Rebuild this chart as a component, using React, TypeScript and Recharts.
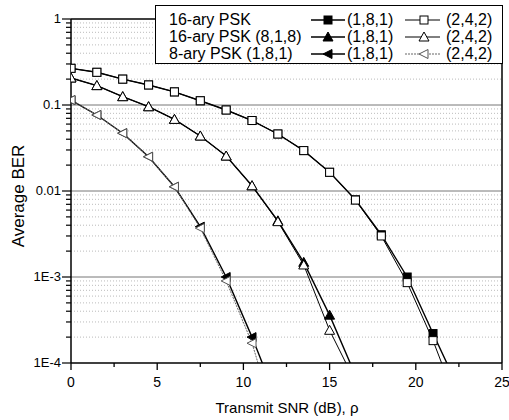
import { LineChart, Line, XAxis, YAxis, ReferenceLine, Legend, Label } from "recharts";

const SNR = [0, 1.5, 3, 4.5, 6, 7.5, 9, 10.5, 12, 13.5, 15, 16.5, 18, 19.5, 21, 22.5];

// 16-ary PSK
const PSK16_181 = [0.267, 0.24, 0.2, 0.171, 0.142, 0.112, 0.0875, 0.066, 0.046, 0.0295, 0.0165, 0.0079, 0.0031, 1.0e-3, 2.2e-4, 5e-5];
const PSK16_242 = [0.267, 0.24, 0.2, 0.171, 0.142, 0.112, 0.0875, 0.066, 0.046, 0.0295, 0.0165, 0.00785, 0.003, 8.6e-4, 1.82e-4, 3e-5];
// 16-ary PSK (8,1,8)
const PSK16R_181 = [0.206, 0.168, 0.125, 0.0955, 0.068, 0.0436, 0.0255, 0.0115, 0.0045, 1.48e-3, 3.6e-4, 7.2e-5];
const PSK16R_242 = [0.206, 0.168, 0.125, 0.0955, 0.068, 0.0436, 0.0255, 0.0115, 0.0044, 1.38e-3, 2.4e-4, 6e-5];
// 8-ary PSK (1,8,1)
const PSK8_181 = [0.114, 0.0765, 0.047, 0.025, 0.0112, 0.00385, 1.0e-3, 2.0e-4, 3.5e-5];
const PSK8_242 = [0.114, 0.0765, 0.047, 0.025, 0.0112, 0.0037, 9.0e-4, 1.7e-4, 1.7e-5];

const X_TICKS = [0, 2.5, 5, 7.5, 10, 12.5, 15, 17.5, 20, 22.5, 25];
const Y_MAJOR = [1e-4, 1e-3, 0.01, 0.1, 1];
const Y_LABELS = ["1E-4", "1E-3", "0.01", "0.1", "1"];
const Y_MINOR = [2, 3, 4, 5, 6, 7, 8, 9];

const LEGEND_NAMES = ["16-ary PSK", "16-ary PSK (8,1,8)", "8-ary PSK (1,8,1)"];
const LEGEND_CODES = ["(1,8,1)", "(2,4,2)"];

const data = SNR.map((snr, i) => ({
  snr,
  a1: PSK16_181[i],
  a2: PSK16_242[i],
  b1: PSK16R_181[i],
  b2: PSK16R_242[i],
  c1: PSK8_181[i],
  c2: PSK8_242[i],
}));

const minorTicks: number[] = [];
Y_MAJOR.slice(0, 4).forEach(d => Y_MINOR.forEach(m => minorTicks.push(+(d * m).toPrecision(3))));
const yTicks = [...Y_MAJOR, ...minorTicks].sort((a, b) => a - b);

const majorIndex = (v: number) => Y_MAJOR.findIndex(m => Math.abs(m - v) / m < 1e-6);

const FONT = "'Liberation Sans', Arial, sans-serif";

const square = (cx: number, cy: number, filled: boolean, key?: any) => (
  <rect key={key} x={cx - 4} y={cy - 4} width={8} height={8} fill={filled ? "#000" : "#fff"} stroke="#000" strokeWidth={1} />
);
const triangle = (cx: number, cy: number, filled: boolean, key?: any) => (
  <polygon key={key} points={`${cx},${cy - 5} ${cx - 5},${cy + 4} ${cx + 5},${cy + 4}`} fill={filled ? "#000" : "#fff"} stroke="#000" strokeWidth={1} />
);
const arrow = (cx: number, cy: number, filled: boolean, key?: any) => (
  <polygon key={key} points={`${cx - 5},${cy} ${cx + 4},${cy - 4.5} ${cx + 4},${cy + 4.5}`} fill={filled ? "#000" : "#fff"} stroke={filled ? "#000" : "#555"} strokeWidth={1} />
);

const makeDot = (shape: typeof square, filled: boolean) => (props: any) => {
  const { cx, cy, index } = props;
  if (cx == null || cy == null || isNaN(cy)) return <g key={index} />;
  return shape(cx, cy, filled, index);
};

const XTick = (props: any) => {
  const { x, y, payload } = props;
  const major = payload.value % 5 === 0;
  return (
    <g>
      <line x1={x} x2={x} y1={y} y2={y + (major ? 7 : 4)} stroke="#000" strokeWidth={1.3} />
      {major && (
        <text x={x} y={y + 24} textAnchor="middle" fontSize={14} fontFamily={FONT} fill="#000">
          {payload.value}
        </text>
      )}
    </g>
  );
};

const YTick = (props: any) => {
  const { x, y, payload } = props;
  const idx = majorIndex(payload.value);
  const major = idx >= 0;
  return (
    <g>
      <line x1={x} x2={x - (major ? 9 : 5)} y1={y} y2={y} stroke="#000" strokeWidth={1.2} />
      {major && (
        <text x={x - 10} y={y + 4} textAnchor="end" fontSize={13} fontFamily={FONT} fill="#000">
          {Y_LABELS[idx]}
        </text>
      )}
    </g>
  );
};

const LegendBox = () => {
  const rowY = [20, 37, 54];
  const shapes = [square, triangle, arrow];
  return (
    <svg width={348} height={59} style={{ display: "block" }}>
      <rect x={0.5} y={0.5} width={347} height={58} fill="#fff" stroke="#000" strokeWidth={1} />
      {LEGEND_NAMES.map((name, i) => {
        const cy = rowY[i] - 5;
        return (
          <g key={name} fontFamily={FONT} fontSize={16} fill="#000">
            <text x={14} y={rowY[i]}>{name}</text>
            <line x1={156} x2={190} y1={cy} y2={cy} stroke="#000" strokeWidth={1.5} />
            {shapes[i](173, cy, true)}
            <text x={192} y={rowY[i]}>{LEGEND_CODES[0]}</text>
            <line x1={250} x2={285} y1={cy} y2={cy} stroke={i === 2 ? "#666" : "#000"} strokeWidth={1} strokeDasharray={i === 2 ? "2 1" : undefined} />
            {shapes[i](269, cy, false)}
            <text x={291} y={rowY[i]}>{LEGEND_CODES[1]}</text>
          </g>
        );
      })}
    </svg>
  );
};

export default function App() {
  return (
    <>
      <style>{`body{margin:0;overflow:hidden}`}</style>
      <LineChart width={509} height={420} data={data} margin={{ top: 19, right: 7, left: 26, bottom: 0 }}>
        <XAxis
          dataKey="snr"
          type="number"
          domain={[0, 25]}
          ticks={X_TICKS}
          interval={0}
          tickSize={0}
          tickMargin={0}
          tickLine={false}
          tick={<XTick />}
          axisLine={{ stroke: "#000", strokeWidth: 1.5 }}
          height={57}
          allowDataOverflow
        >
          <Label
            content={() => (
              <text x={287} y={413} textAnchor="middle" fontSize={15} fontFamily={FONT} fill="#000">
                Transmit SNR (dB), ρ
              </text>
            )}
          />
        </XAxis>
        <YAxis
          type="number"
          scale="log"
          domain={[1e-4, 1]}
          ticks={yTicks}
          interval={0}
          tickSize={0}
          tickMargin={0}
          tickLine={false}
          tick={<YTick />}
          axisLine={{ stroke: "#000", strokeWidth: 1.5 }}
          width={45}
          allowDataOverflow
        >
          <Label
            content={() => (
              <text
                x={23.5}
                y={196}
                transform="rotate(-90 23.5 196)"
                textAnchor="middle"
                fontSize={17}
                fontFamily={FONT}
                fill="#000"
              >
                Average BER
              </text>
            )}
          />
        </YAxis>
        {minorTicks.map(v => (
          <ReferenceLine key={`m${v}`} y={v} stroke="#aaa" strokeWidth={0.8} strokeDasharray="1 2" ifOverflow="hidden" />
        ))}
        {Y_MAJOR.slice(1, 4).map(v => (
          <ReferenceLine key={`M${v}`} y={v} stroke="#777" strokeWidth={1} />
        ))}
        <ReferenceLine y={1} stroke="#000" strokeWidth={1.5} />
        <ReferenceLine x={25} stroke="#000" strokeWidth={1.5} />

        <Line dataKey="a1" stroke="#000" strokeWidth={1.4} dot={makeDot(square, true)} isAnimationActive={false} />
        <Line dataKey="b1" stroke="#000" strokeWidth={1.4} dot={makeDot(triangle, true)} isAnimationActive={false} />
        <Line dataKey="c1" stroke="#000" strokeWidth={1.4} dot={makeDot(arrow, true)} isAnimationActive={false} />
        <Line dataKey="a2" stroke="#000" strokeWidth={1} dot={makeDot(square, false)} isAnimationActive={false} />
        <Line dataKey="b2" stroke="#000" strokeWidth={1} dot={makeDot(triangle, false)} isAnimationActive={false} />
        <Line dataKey="c2" stroke="#666" strokeWidth={1} strokeDasharray="2 1" dot={makeDot(arrow, false)} isAnimationActive={false} />

        <Legend
          layout="vertical"
          align="center"
          verticalAlign="middle"
          content={() => <LegendBox />}
          wrapperStyle={{ left: 155, top: 5, width: 348, height: 59 }}
        />
      </LineChart>
    </>
  );
}
